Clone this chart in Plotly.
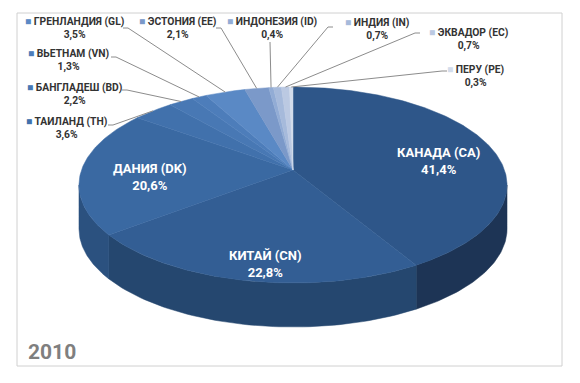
import numpy as np
import plotly.graph_objects as go

# ---- data ----
labels = ["КАНАДА (CA)", "КИТАЙ (CN)", "ДАНИЯ (DK)", "ТАИЛАНД (TH)", "БАНГЛАДЕШ (BD)",
          "ВЬЕТНАМ (VN)", "ГРЕНЛАНДИЯ (GL)", "ЭСТОНИЯ (EE)", "ИНДОНЕЗИЯ (ID)",
          "ИНДИЯ (IN)", "ЭКВАДОР (EC)", "ПЕРУ (PE)"]
values = [41.4, 22.8, 20.6, 3.6, 2.2, 1.3, 3.5, 2.1, 0.4, 0.7, 0.7, 0.3]
value_text = ["41,4%", "22,8%", "20,6%", "3,6%", "2,2%", "1,3%", "3,5%", "2,1%",
              "0,4%", "0,7%", "0,7%", "0,3%"]
year_label = "2010"

# ---- styles ----
top_colors = ["#2E5689", "#335E94", "#3A69A2", "#4171AC", "#4878B4", "#4D7DBA",
              "#5A89C5", "#7B99C9", "#92ACD5", "#A6BADB", "#BBC9E2", "#D3DCEB"]
side_colors = ["#1D3455", "#25476F", "#2B517F", "#315A8C", "#375F93", "#3B6497",
              "#456FA3", "#5E7CA8", "#7690B8", "#8BA0C2", "#A1B2CE", "#BCC7DB"]

# projection parameters (pixel space)
CX, CY = 293.0, 170.0
A, B, K = 211.5, 95.7, 0.153
DEPTH = 44.0


def proj(t):
    u, v = np.sin(t), np.cos(t)
    w = 1 + K * v
    return CX + A * u / w, CY - B * v / w


vals = np.array(values)
frac = vals / vals.sum()
ends = np.cumsum(frac) * 2 * np.pi
starts = ends - frac * 2 * np.pi

front0 = np.arccos(-K)
front1 = 2 * np.pi - front0

fig = go.Figure()

# side walls
for i in range(len(values)):
    a0, a1 = max(starts[i], front0), min(ends[i], front1)
    if a1 <= a0:
        continue
    ts = np.linspace(a0, a1, 60)
    xs, ys = proj(ts)
    px = np.concatenate([xs, xs[::-1], xs[:1]])
    py = np.concatenate([ys, ys[::-1] + DEPTH, ys[:1]])
    fig.add_trace(go.Scatter(x=px, y=py, fill="toself", mode="lines",
                             line=dict(color=side_colors[i], width=0.5),
                             fillcolor=side_colors[i], hoverinfo="skip"))

# top faces
for i in range(len(values)):
    n = max(4, int(frac[i] * 400))
    ts = np.linspace(starts[i], ends[i], n)
    xs, ys = proj(ts)
    px = np.concatenate([[CX], xs, [CX]])
    py = np.concatenate([[CY], ys, [CY]])
    fig.add_trace(go.Scatter(x=px, y=py, fill="toself", mode="lines",
                             line=dict(color=top_colors[i], width=0.5),
                             fillcolor=top_colors[i], hoverinfo="skip"))

# inside labels for big slices
inside_pos = {0: (438, 161), 1: (265, 264), 2: (150, 177)}
for i, (lx, ly) in inside_pos.items():
    fig.add_annotation(x=lx, y=ly, text=f"<b>{labels[i]}<br>{value_text[i]}</b>",
                       showarrow=False, align="center",
                       font=dict(family="Roboto", size=13, color="white"))

# outside labels with leader lines
label_pos = {3: (67, 128), 4: (75, 93.5), 5: (69, 60), 6: (75, 27.5), 7: (178, 27.5),
             8: (272, 27.5), 9: (377, 28.5), 10: (469, 38.5), 11: (476, 76)}
line_start = {3: (108, 125), 4: (122, 90), 5: (111, 57), 6: (123, 28), 7: (216, 28),
              8: (270, 42), 9: (333, 27), 10: (420, 33), 11: (447, 71)}
for i, (lx, ly) in label_pos.items():
    mid = (starts[i] + ends[i]) / 2
    rx, ry = proj(mid)
    sx, sy = line_start[i]
    if i == 8:
        xs_l, ys_l = [sx, rx], [sy, ry]
    elif i in (9, 10, 11):
        xs_l, ys_l = [sx, sx - 5, rx], [sy, sy, ry]
    else:
        xs_l, ys_l = [sx, sx + 5, rx], [sy, sy, ry]
    fig.add_trace(go.Scatter(x=xs_l, y=ys_l, mode="lines",
                             line=dict(color="#8C8C8C", width=1), hoverinfo="skip"))
    fig.add_annotation(
        x=lx, y=ly, showarrow=False, align="center",
        text=f"<b><span style='color:{top_colors[i]}'>■</span> {labels[i]}<br>{value_text[i]}</b>",
        font=dict(family="Roboto", size=10.3, color="#333333"))

fig.add_annotation(x=26, y=352, xanchor="left", text=f"<b>{year_label}</b>", showarrow=False,
                   font=dict(family="Roboto", size=21, color="#7F7F7F"))

fig.add_shape(type="rect", x0=17, y0=13, x1=562, y1=366,
              line=dict(color="#D0D0D0", width=1), layer="below")

fig.update_layout(
    width=580, height=383, margin=dict(l=0, r=0, t=0, b=0),
    paper_bgcolor="white", plot_bgcolor="white", showlegend=False,
    xaxis=dict(range=[0, 580], visible=False, fixedrange=True),
    yaxis=dict(range=[383, 0], visible=False, fixedrange=True),
    hovermode=False,
)

fig.write_html("out.html", config={"displayModeBar": False},
               post_script="document.body.style.margin='0';document.body.style.overflow='hidden';")
